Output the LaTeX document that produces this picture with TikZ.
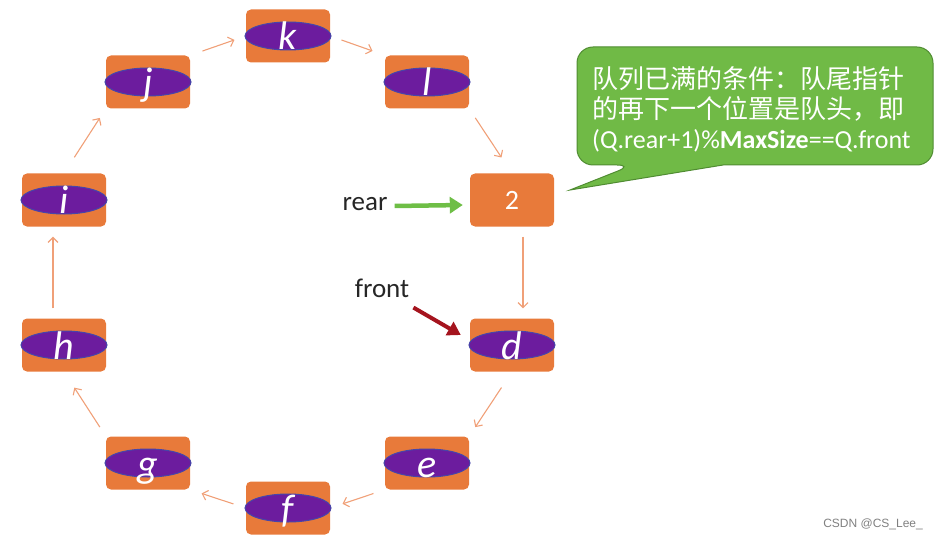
\documentclass[tikz,border=0pt]{standalone}
\usepackage{fontspec}
\setmainfont{Carlito}
\newfontfamily\cjk{Noto Sans CJK SC}
\newfontfamily\wmfont{Liberation Sans}
\usetikzlibrary{arrows.meta,shapes.geometric}
\definecolor{boxorange}{RGB}{232,122,58}
\definecolor{qpurple}{RGB}{108,28,158}
\definecolor{qblue}{RGB}{70,70,170}
\definecolor{arrowc}{RGB}{240,160,120}
\definecolor{cgreen}{RGB}{112,186,70}
\definecolor{cgreenb}{RGB}{80,140,50}
\definecolor{reargreen}{RGB}{110,190,70}
\definecolor{frontred}{RGB}{165,20,30}
\tikzset{
  qbox/.style={fill=boxorange, rounded corners=5pt, minimum width=84pt, minimum height=53pt, inner sep=0pt},
  qell/.style={ellipse, fill=qpurple, draw=qblue, line width=1pt, minimum width=86pt, minimum height=28pt, inner sep=0pt},
  qlet/.style={anchor=base, inner sep=0pt, text=white, font=\itshape\fontsize{40}{40}\selectfont},
  qarr/.style={draw=arrowc, line width=1.1pt, -{Straight Barb[length=5pt,width=10pt]}},
  ptext/.style={font=\fontsize{27}{27}\selectfont, text=black!85, inner sep=0pt},
  callout/.style={fill=cgreen, draw=cgreenb, line width=1pt}
}
\newcommand\qnode[4]{%
  \node[qbox] (#1) at (#2,#3) {};
  \node[qell] (#1e) at (#1) {};
  \node[qlet] (#1t) at (#2,#3+14) {#4};}
\begin{document}
\begin{tikzpicture}[x=1pt,y=-1pt]
\useasboundingbox (0,0) rectangle (939,540);
\qnode{k}{288}{36}{k}
\qnode{l}{427}{82}{l}
\qnode{j}{148}{82}{j}
\node[qbox] (two) at (512,200) {};
\node[text=white, inner sep=0pt, font=\fontsize{28}{28}\selectfont] (twot) at (two) {2};
\qnode{i}{64}{200}{i}
\qnode{d}{512}{345}{d}
\qnode{h}{64}{345}{h}
\qnode{e}{427}{463}{e}
\qnode{g}{148}{463}{g}
\qnode{f}{288}{508}{f}
% ring arrows
\draw[qarr, shorten <=12pt, shorten >=13pt] (k.east) -- (l.north west);
\draw[qarr, shorten <=11pt, shorten >=19pt] (l.south east) -- (two.north);
\draw[qarr, shorten <=10pt, shorten >=10pt] ([xshift=11pt]two.south) -- ([xshift=11pt]d.north);
\draw[qarr, shorten <=19pt, shorten >=11pt] (d.south) -- (e.north east);
\draw[qarr, shorten <=12pt, shorten >=13pt] (e.south west) -- (f.east);
\draw[qarr, shorten <=13pt, shorten >=12pt] (f.west) -- (g.south east);
\draw[qarr, shorten <=11pt, shorten >=19pt] (g.north west) -- (h.south);
\draw[qarr, shorten <=10pt, shorten >=10pt] ([xshift=-11pt]h.north) -- ([xshift=-11pt]i.south);
\draw[qarr, shorten <=19pt, shorten >=11pt] (i.north) -- (j.south west);
\draw[qarr, shorten <=13pt, shorten >=12pt] (j.north east) -- (k.west);
% pointers
\node[ptext] (rear) at (365,204) {rear};
\node[ptext] (front) at (382,288) {front};
\draw[draw=reargreen, line width=4.5pt, -{Triangle[length=13pt,width=16pt]}] ([xshift=7pt,yshift=-2pt]rear.east) -- ([xshift=-7pt,yshift=-5pt]two.west);
\draw[draw=frontred, line width=4pt, -{Triangle[length=13pt,width=15pt]}] ([xshift=4pt,yshift=-10pt]front.south east) -- ([xshift=-9pt,yshift=10pt]d.west);
% callout
\draw[callout] (723,165) [rounded corners=16pt] -- (933,165) -- (933,47) -- (577,47) -- (577,165) -- (633,165) [sharp corners] -- (570,190) -- cycle;
\node[anchor=north west, inner sep=0pt, align=left, text=white, font=\fontsize{26}{30}\selectfont] (ctext) at (592,66)
  {{\cjk 队列已满的条件：队尾指针}\\{\cjk 的再下一个位置是队头，即}\\(Q.rear+1)\%\textbf{MaxSize}==Q.front};
% watermark
\node[anchor=east, inner sep=0pt, text=black!50, font=\wmfont\fontsize{12}{12}\selectfont] (wm) at (923,524) {CSDN @CS\_Lee\_};
\end{tikzpicture}
\end{document}
